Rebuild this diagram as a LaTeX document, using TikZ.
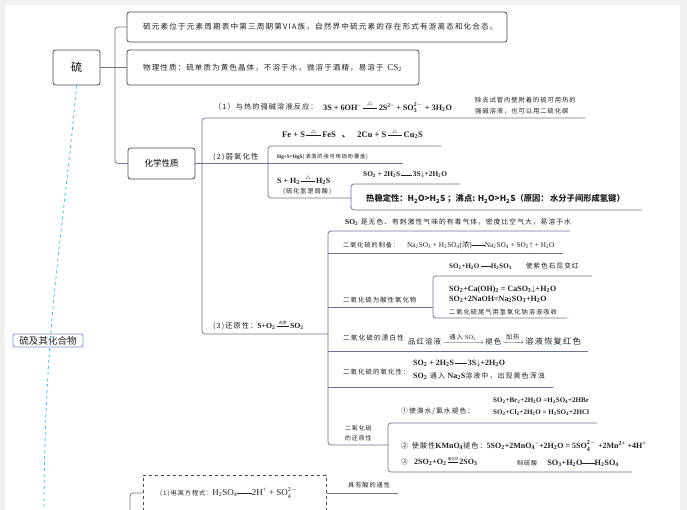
\documentclass[tikz,border=0pt]{standalone}
\usepackage{amsmath}
\usepackage{fontspec}
\setmainfont{Liberation Serif}
\newfontfamily\cjk{Noto Sans CJK SC}[LetterSpace=15]
\newfontfamily\cjkn{Noto Sans CJK SC}
\newcommand{\dn}[1]{\textsubscript{#1}}
\newcommand{\up}[1]{\textsuperscript{#1}}
\newcommand{\ud}[2]{\ensuremath{{}^{\text{#1}}_{\text{#2}}}}
\newcommand{\cnd}[2][1.6em]{\ensuremath{\mathrel{\mathop{\rule[0.5ex]{#1}{0.5pt}}\limits^{\hbox{#2}}}}}
\newcommand{\eqq}[1][1.4em]{\ensuremath{\mathrel{\rule[0.5ex]{#1}{0.5pt}}}}
\newcommand{\tri}{\fontsize{5}{5}\selectfont$\triangle$}
\newcommand{\fm}[1]{{\rmfamily\bfseries #1}}
\newcommand{\fz}[1]{\fontsize{#1}{#1}\selectfont}
\definecolor{lnc}{HTML}{6E7391}
\definecolor{bxc}{HTML}{4A4A4A}
\definecolor{txc}{HTML}{222222}
\definecolor{dcy}{HTML}{3EC6E6}
\definecolor{lbl}{HTML}{7D95D8}
\tikzset{
  conn/.style={draw=lnc, line width=0.7pt, rounded corners=3pt},
  bx/.style={draw=bxc, line width=0.8pt, rounded corners=2.5pt, fill=white},
  tx/.style={anchor=west, inner sep=0pt, text=txc},
  tsm/.style={tx, font=\cjk\fz{6.5}},
  tfm/.style={tx, font=\rmfamily\bfseries\fz{8}},
}
\begin{document}
\begin{tikzpicture}[x=1pt,y=-1pt]
\useasboundingbox (0,0) rectangle (687,510);
\fill[gray!12] (0,0) rectangle (687,510);
\fill[white] (5,5) rectangle (680,515);
% root and spine
\coordinate (sp1) at (44,515);
\node[bx, minimum width=47, minimum height=35, font=\cjkn\fz{11}] (s) at (76.5,67.5) {硫};
\node[draw=lbl, line width=0.8pt, rounded corners=2pt, fill=white, inner sep=1pt, minimum width=70, minimum height=13, font=\cjkn\fz{9.5}, text=txc] (root) at (48,340.5) {硫及其化合物};
\draw[dcy, dashed, line width=0.8pt] (s.south) .. controls (64,230) and (44,320) .. (sp1);
% level 1 boxes
\node[bx, minimum width=380, minimum height=30] (b1) at (317,27) {};
\node[tsm, font=\cjk\fz{7.6}] (b1t) at (143,27) {硫元素位于元素周期表中第三周期第VIA族，自然界中硫元素的存在形式有游离态和化合态。};
\node[bx, minimum width=292, minimum height=35] (b2) at (273,67.5) {};
\node[tsm, font=\cjk\fz{7.5}] (b2t) at (143,67.5) {物理性质：硫单质为黄色晶体，不溶于水，微溶于酒精，易溶于\enspace{\rmfamily\fz{9}CS\dn{2}}};
\node[bx, minimum width=67, minimum height=31, font=\cjkn\fz{8.5}] (chem) at (161.5,163.5) {化学性质};
\coordinate (j0) at (115,67.5);
\draw[conn] (b1.west) -| (j0) |- (chem.west);
\draw[conn] (s.east) -- (b2.west);
% chemical property bracket
\coordinate (m1) at (585,118);
\coordinate (m2) at (202,334);
\coordinate (m3) at (328,334);
\draw[conn] (m1) -- (202,118) -- (m2) -- (m3);
\coordinate (m4) at (403,163.5);
\draw[conn] (chem.east) -- (m4);
% (1)
\node[tsm, font=\cjk\fz{7.2}] (p1) at (214,107) {（1）与热的强碱溶液反应：};
\node[tfm, font=\rmfamily\bfseries\fz{8.2}] (p1f) at (323,107) {3S + 6OH\up{\textminus}\,\cnd[1.8em]{\tri}\,2S\up{2\textminus} + SO\ud{2$-$}{3} + 3H\dn{2}O};
\node[tsm, align=left, font=\cjk\fontsize{6.3}{11}\selectfont] (p1n) at (475,105.5) {除去试管内壁附着的硫可用热的\\强碱溶液，也可以用二硫化碳};
% (2)
\node[tsm, font=\cjk\fz{7.4}] (p2) at (213,157) {(2)弱氧化性};
\coordinate (q1) at (441,146);
\coordinate (q2) at (351,198);
\draw[conn] (q1) -- (268,146) -- (268,198) -- (q2);
\node[tfm, font=\rmfamily\bfseries\fz{8.5}] (fe) at (282,134) {Fe + S\,\cnd[1.7em]{\tri}\,FeS\hspace{6pt}{\cjkn 、}\hspace{7pt}2Cu + S\,\cnd[1.7em]{\tri}\,Cu\dn{2}S};
\node[tsm, font=\cjk\fz{5.3}] (hg) at (277,157) {{\rmfamily\bfseries Hg+S=HgS}(洒落的汞可用硫粉覆盖)};
\node[tfm] (sh) at (277,180) {S + H\dn{2}\,\cnd[1.7em]{\tri}\,H\dn{2}S};
\node[tsm, font=\cjk\fz{6.2}] (shn) at (283,191) {(硫化氢是弱酸)};
\coordinate (r1) at (460,184);
\coordinate (r2) at (642,210);
\draw[conn] (r1) -- (351,184) -- (351,210) -- (r2);
\node[tfm, font=\rmfamily\bfseries\fz{7.3}] (so2h2s) at (363,175) {SO\dn{2} + 2H\dn{2}S\,\eqq\,3S\ensuremath{\downarrow}+2H\dn{2}O};
\node[tx, font=\cjkn\bfseries\fz{8.3}] (rw) at (366,199) {热稳定性：H\dn{2}O>H\dn{2}S ；沸点: H\dn{2}O>H\dn{2}S（原因：\,水分子间形成氢键）};
% (3)
\node[tsm, font=\cjk\fz{7.2}] (p3) at (213,325) {(3)还原性：\fm{\fz{7.8}S+O\dn{2}}\,\cnd[1.7em]{\cjkn\fz{4}点燃}\,\fm{\fz{7.8}SO\dn{2}}};
% SO2 bracket
\coordinate (k1) at (570,231);
\coordinate (k2) at (388,445);
\draw[conn] (k1) -- (328,231) -- (328,445) -- (k2);
\node[tsm, font=\cjk\fz{6.8}] (k1t) at (345,222) {\fm{\fz{7.5}SO\dn{2}} 是无色、有刺激性气味的有毒气体，密度比空气大，易溶于水};
\coordinate (k3a) at (328,253);
\coordinate (k3b) at (563,253);
\draw[conn] (k3a) -- (k3b);
\node[tsm, font=\cjk\fz{6.2}] (prep) at (343,245) {二氧化硫的制备：};
\node[tx, font=\rmfamily\fz{7.3}] (prepf) at (407,245) {Na\dn{2}SO\dn{3} + H\dn{2}SO\dn{4}({\cjkn 浓})\eqq[1.8em]Na\dn{2}SO\dn{4} + SO\dn{2}\ensuremath{\uparrow} + H\dn{2}O};
% acidic oxide
\coordinate (k4a) at (328,307);
\coordinate (k4b) at (433,307);
\draw[conn] (k4a) -- (k4b);
\node[tsm, font=\cjk\fz{6.45}] (acid) at (343,300) {二氧化硫为酸性氧化物};
\coordinate (a1) at (592,276);
\coordinate (a2) at (567,318);
\draw[conn] (a1) -- (433,276) -- (433,318) -- (a2);
\node[tfm, font=\rmfamily\bfseries\fz{7}] (a1t) at (449,266) {SO\dn{2}+H\dn{2}O \eqq[1.4em]H\dn{2}SO\dn{3}\hspace{14pt}{\cjk\mdseries\fz{6.7}使紫色石蕊变红}};
\node[tx, align=left, font=\rmfamily\bfseries\fontsize{8}{9.8}\selectfont] (a2t) at (449,294) {SO\dn{2}+Ca(OH)\dn{2} = CaSO\dn{3}\ensuremath{\downarrow}+H\dn{2}O\\SO\dn{2}+2NaOH=Na\dn{2}SO\dn{3}+H\dn{2}O};
\node[tsm, font=\cjk\fz{6.3}] (a3t) at (449,312) {二氧化硫尾气用氢氧化钠溶液吸收};
% bleaching
\coordinate (k5a) at (328,351);
\coordinate (k5b) at (588,351);
\draw[conn] (k5a) -- (k5b);
\node[tsm, font=\cjk\fz{6.7}] (bl) at (343,338) {二氧化硫的漂白性};
\node[tx, font=\cjk\fz{7.4}] (blt) at (408,339) {品红溶液\,$\xrightarrow{\hbox to 36pt{\hss\cjk\fz{6.3}通入 {\rmfamily SO\dn{2}}\hss}}$\,褪色\,$\xrightarrow{\hbox to 16pt{\hss\cjk\fz{6.3}加热\hss}}$\,{\cjk\fz{8.2}溶液恢复红色}};
% oxidizing
\coordinate (k6a) at (328,387);
\coordinate (k6b) at (553,387);
\draw[conn] (k6a) -- (k6b);
\node[tsm, font=\cjk\fz{6.5}] (ox) at (343,372) {二氧化硫的氧化性：};
\node[tfm] (ox1) at (413,363) {SO\dn{2} + 2H\dn{2}S\,\eqq\,3S\ensuremath{\downarrow}+2H\dn{2}O};
\node[tx, font=\cjk\fz{7}] (ox2) at (413,376) {\fm{\fz{8}SO\dn{2}} 通入 \fm{\fz{8}Na\dn{2}S}溶液中，出现黄色浑浊};
% reducing
\node[tsm, align=left, font=\cjk\fontsize{5.9}{10}\selectfont] (red) at (345,433) {二氧化硫\\的还原性};
\coordinate (d1) at (597,423);
\coordinate (d2) at (632,472);
\draw[conn] (d1) -- (388,423) -- (388,472) -- (d2);
\node[tsm, font=\cjk\fz{6.8}] (d1t) at (401,411) {①使溴水/氯水褪色：};
\node[tx, align=left, font=\rmfamily\bfseries\fontsize{7}{12}\selectfont] (d1f) at (493,407) {SO\dn{2}+Br\dn{2}+2H\dn{2}O =H\dn{2}SO\dn{4}+2HBr\\SO\dn{2}+Cl\dn{2}+2H\dn{2}O = H\dn{2}SO\dn{4}+2HCl};
\node[tsm, font=\cjk\fz{7.1}] (d2t) at (401,446) {②\enspace 使酸性{\rmfamily\bfseries\fz{8}KMnO\dn{4}}褪色：{\rmfamily\bfseries\fz{8}5SO\dn{2}+2MnO\dn{4}\up{\textminus}+2H\dn{2}O = 5SO\ud{2$-$}{4} +2Mn\up{2+} +4H\up{+}}};
\node[tsm, font=\cjk\fz{7}] (d3t) at (401,461) {③\hspace{6pt}{\rmfamily\bfseries\fz{8}2SO\dn{2}+O\dn{2}}\,\cnd[1.5em]{\cjkn\fz{3.5}催化剂}\,{\rmfamily\bfseries\fz{8}2SO\dn{3}}};
\node[tsm, font=\cjk\fz{6.1}] (d4t) at (517,463) {制硫酸\hspace{10pt}{\rmfamily\bfseries\fz{8.2}SO\dn{3}+H\dn{2}O\eqq[1.5em]H\dn{2}SO\dn{4}}};
% sulfuric acid
\node[draw=bxc, dashed, line width=0.7pt, minimum width=183, minimum height=45, anchor=north west] (h) at (143,475) {};
\coordinate (hb) at (130,515);
\draw[conn] (h.west |- 0,493) -- (130,493) -- (hb);
\node[tsm, font=\cjk\fz{6.2}] (ht) at (160,493) {(1)电离方程式：{\rmfamily\fz{9}H\dn{2}SO\dn{4}\eqq[1.6em]2H\up{+} + SO\ud{2$-$}{4}}};
\coordinate (he) at (398,493);
\draw[conn] (h.east |- 0,493) -- (he);
\node[tsm, font=\cjk\fz{6.2}] (hn) at (348,485) {具有酸的通性};
\end{tikzpicture}
\end{document}
